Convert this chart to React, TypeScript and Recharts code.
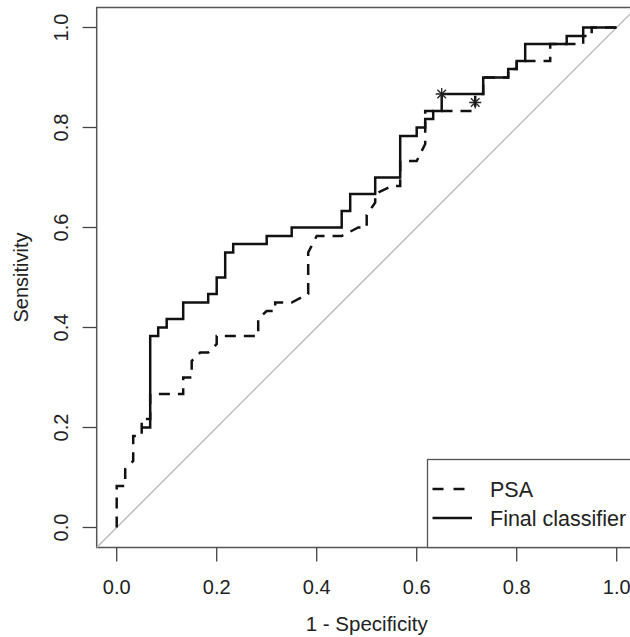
import React from "react";
import {
  ComposedChart,
  Line,
  Scatter,
  XAxis,
  YAxis,
  ReferenceLine,
  ReferenceArea,
  Legend,
} from "recharts";

// ROC curves (x = 1 - specificity, y = sensitivity)
const psaFpr = [0, 0, 0.017, 0.017, 0.033, 0.033, 0.05, 0.05, 0.067, 0.067, 0.133, 0.133, 0.15, 0.15, 0.167, 0.183, 0.2, 0.2, 0.283, 0.283, 0.3, 0.317, 0.317, 0.35, 0.383, 0.383, 0.4, 0.45, 0.483, 0.5, 0.5, 0.517, 0.517, 0.55, 0.567, 0.567, 0.6, 0.617, 0.617, 0.717, 0.717, 0.717, 0.733, 0.733, 0.783, 0.783, 0.8, 0.8, 0.867, 0.867, 0.933, 0.933, 0.95, 0.95, 1];
const psaTpr = [0, 0.083, 0.083, 0.117, 0.133, 0.183, 0.183, 0.217, 0.217, 0.267, 0.267, 0.3, 0.3, 0.333, 0.35, 0.35, 0.367, 0.383, 0.383, 0.417, 0.433, 0.433, 0.45, 0.45, 0.467, 0.55, 0.583, 0.583, 0.6, 0.6, 0.625, 0.65, 0.667, 0.683, 0.683, 0.733, 0.733, 0.767, 0.833, 0.833, 0.85, 0.867, 0.867, 0.9, 0.9, 0.917, 0.917, 0.933, 0.933, 0.967, 0.967, 0.983, 0.983, 1, 1];

const finalFpr = [0.05, 0.067, 0.067, 0.083, 0.083, 0.1, 0.1, 0.133, 0.133, 0.183, 0.183, 0.2, 0.2, 0.217, 0.217, 0.233, 0.233, 0.3, 0.3, 0.35, 0.35, 0.45, 0.45, 0.467, 0.467, 0.517, 0.517, 0.567, 0.567, 0.6, 0.6, 0.617, 0.617, 0.633, 0.633, 0.65, 0.65, 0.733, 0.733, 0.783, 0.783, 0.8, 0.8, 0.817, 0.817, 0.9, 0.9, 0.933, 0.933, 1];
const finalTpr = [0.2, 0.2, 0.383, 0.383, 0.4, 0.4, 0.417, 0.417, 0.45, 0.45, 0.467, 0.467, 0.5, 0.5, 0.55, 0.55, 0.567, 0.567, 0.583, 0.583, 0.6, 0.6, 0.633, 0.633, 0.667, 0.667, 0.7, 0.7, 0.783, 0.783, 0.8, 0.8, 0.817, 0.817, 0.833, 0.833, 0.867, 0.867, 0.9, 0.9, 0.917, 0.917, 0.933, 0.933, 0.967, 0.967, 0.983, 0.983, 1, 1];

// best thresholds (asterisks)
const bestFpr = [0.717, 0.65];
const bestTpr = [0.85, 0.867];

const tickValues = [0, 0.2, 0.4, 0.6, 0.8, 1];
const legendNames = ["PSA", "Final classifier"];

const FONT = '"Liberation Sans", Arial, sans-serif';
const LO = -0.04;
const HI = 1.04;

const zip = (xs: number[], ys: number[]) => xs.map((x, i) => ({ x, y: ys[i] }));

const psaData = zip(psaFpr, psaTpr);
const finalData = zip(finalFpr, finalTpr);
const bestData = zip(bestFpr, bestTpr);

const Asterisk = (props: any) => {
  const { cx, cy } = props;
  const r = 6;
  const d = r * 0.72;
  return (
    <g stroke="#222" strokeWidth={1.3}>
      <line x1={cx - r} y1={cy} x2={cx + r} y2={cy} />
      <line x1={cx} y1={cy - r} x2={cx} y2={cy + r} />
      <line x1={cx - d} y1={cy - d} x2={cx + d} y2={cy + d} />
      <line x1={cx - d} y1={cy + d} x2={cx + d} y2={cy - d} />
    </g>
  );
};

const YTick = (props: any) => {
  const { y, payload } = props;
  return (
    <text
      x={68}
      y={y}
      transform={`rotate(-90, 68, ${y})`}
      textAnchor="middle"
      fontSize={20}
      fontFamily={FONT}
      fill="#222"
    >
      {payload.value.toFixed(1)}
    </text>
  );
};

const LegendBox = () => (
  <svg width={220} height={90} style={{ display: "block", overflow: "visible" }}>
    <rect x={0.5} y={0.5} width={240} height={88} fill="#fff" stroke="#555" strokeWidth={1.3} />
    <line x1={5.5} y1={30} x2={38} y2={30} stroke="#111" strokeWidth={2.5} strokeDasharray="11 10" />
    <line x1={5.5} y1={59} x2={45} y2={59} stroke="#111" strokeWidth={2.5} />
    <text x={63} y={37.5} fontSize={21.5} fontFamily={FONT} fill="#222">{legendNames[0]}</text>
    <text x={63} y={66.5} fontSize={21.5} fontFamily={FONT} fill="#222">{legendNames[1]}</text>
  </svg>
);

export default function App() {
  return (
    <div
      style={{
        position: "absolute",
        left: 0,
        top: 0,
        width: 630,
        height: 637,
        overflow: "hidden",
        background: "#fff",
      }}
    >
      <ComposedChart
        width={650}
        height={637}
        margin={{ top: 7.5, right: 13.3, bottom: 0, left: 0 }}
      >
        <XAxis
          dataKey="x"
          type="number"
          domain={[LO, HI]}
          allowDataOverflow
          ticks={tickValues}
          tickFormatter={(v: number) => v.toFixed(1)}
          tickSize={14}
          tickMargin={18}
          axisLine={false}
          tickLine={{ stroke: "#444", strokeWidth: 1.3 }}
          tick={{ fontSize: 20, fontFamily: FONT, fill: "#222" }}
          height={89.5}
          label={{
            content: (p: any) => {
              const vb = p.viewBox || { x: 96.7, width: 540 };
              return (
                <text
                  x={vb.x + vb.width / 2}
                  y={631}
                  textAnchor="middle"
                  fontSize={20.5}
                  fontFamily={FONT}
                  fill="#222"
                >
                  1 - Specificity
                </text>
              );
            },
          }}
        />
        <YAxis
          dataKey="y"
          type="number"
          domain={[LO, HI]}
          allowDataOverflow
          ticks={tickValues}
          tickSize={14}
          axisLine={false}
          tickLine={{ stroke: "#444", strokeWidth: 1.3 }}
          tick={<YTick />}
          width={96.7}
          label={{
            content: () => (
              <text
                x={28}
                y={277.5}
                transform="rotate(-90, 28, 277.5)"
                textAnchor="middle"
                fontSize={20}
                fontFamily={FONT}
                fill="#222"
              >
                Sensitivity
              </text>
            ),
          }}
        />
        <ReferenceArea
          x1={LO}
          x2={HI}
          y1={LO}
          y2={HI}
          fill="none"
          fillOpacity={0}
          stroke="#555"
          strokeWidth={1.5}
          ifOverflow="visible"
        />
        <ReferenceLine
          segment={[
            { x: LO, y: LO },
            { x: HI, y: HI },
          ]}
          stroke="#b5b5b5"
          strokeWidth={1.3}
          ifOverflow="visible"
        />
        <Line
          data={psaData}
          dataKey="y"
          type="linear"
          stroke="#111"
          strokeWidth={2.5}
          strokeDasharray="11 8"
          dot={false}
          activeDot={false}
          isAnimationActive={false}
          name={legendNames[0]}
        />
        <Line
          data={finalData}
          dataKey="y"
          type="linear"
          stroke="#111"
          strokeWidth={2.5}
          dot={false}
          activeDot={false}
          isAnimationActive={false}
          name={legendNames[1]}
        />
        <Scatter data={bestData} dataKey="y" shape={<Asterisk />} isAnimationActive={false} />
        <Legend
          layout="horizontal"
          verticalAlign="middle"
          align="center"
          content={() => <LegendBox />}
          wrapperStyle={{ left: 427, top: 459, width: 220, height: 90, margin: 0 }}
        />
      </ComposedChart>
    </div>
  );
}
